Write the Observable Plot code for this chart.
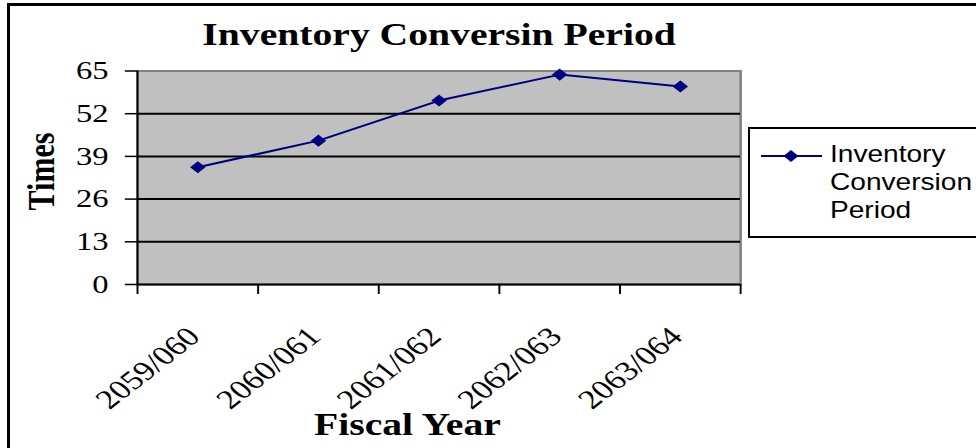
<!DOCTYPE html>
<html>
<head>
<meta charset="utf-8">
<script src="https://cdn.jsdelivr.net/npm/d3@7"></script>
<script src="https://cdn.jsdelivr.net/npm/@observablehq/plot@0.6"></script>
<style>
  html, body { margin: 0; padding: 0; background: #fff; }
  body { width: 976px; height: 448px; overflow: hidden; position: relative; }
  #chart { position: absolute; left: 0; top: 0; width: 976px; height: 448px; }
  #outer { position: absolute; left: 7px; top: 3px; width: 990px; height: 460px;
           border-top: 3px solid #000; border-left: 3px solid #000; pointer-events: none; }
  #legend { position: absolute; left: 748px; top: 127px; width: 240px; height: 107px;
            border: 2px solid #000; background: #fff; }
  #legend svg { position: absolute; left: 0; top: 0; }
  #legend .txt { position: absolute; left: 80px; top: 11px; font-family: "Liberation Sans", Arial, sans-serif;
                 font-size: 24px; line-height: 28px; color: #000; white-space: nowrap;
                 transform: scaleX(1.17); transform-origin: 0 0; }
</style>
</head>
<body>
<div id="chart"></div>
<div id="outer"></div>
<div id="legend"></div>
<script>
// ---- data ----
const fiscalYears = ["2059/060", "2060/061", "2061/062", "2062/063", "2063/064"];
const conversionPeriod = [35.7, 43.8, 56.0, 63.9, 60.3];
const yTicks = [0, 13, 26, 39, 52, 65];
const chartTitle = "Inventory Conversin Period";
const xTitle = "Fiscal Year";
const yTitle = "Times";
const seriesName = ["Inventory", "Conversion", "Period"];

const data = fiscalYears.map((fy, i) => ({fy, i, v: conversionPeriod[i]}));
const boundaries = d3.range(0, fiscalYears.length + 1);

// Drawn in a narrower space, then stretched horizontally like the reference image
const W = 763, H = 448;
const navy = "#000080";
const serif = "'Liberation Serif', 'Times New Roman', serif";

const chart = Plot.plot({
  width: W,
  height: H,
  marginLeft: 107,
  marginRight: W - 578.5,
  marginTop: 70.5,
  marginBottom: 164,
  style: {fontFamily: serif, background: "transparent", color: "#000", overflow: "visible"},
  x: {type: "linear", domain: [0, fiscalYears.length], axis: null},
  y: {domain: [0, 65], axis: null},
  marks: [
    Plot.frame({fill: "#c0c0c0", stroke: "#808080", strokeWidth: 2}),
    Plot.ruleY(yTicks.filter(d => d > 0 && d < 65), {stroke: "#000", strokeWidth: 2}),
    Plot.ruleX([0], {stroke: "#000", strokeWidth: 1.5}),
    Plot.ruleY([0], {stroke: "#000", strokeWidth: 2}),
    Plot.axisY({ticks: yTicks, tickSize: 9.4, tickPadding: 13.2, fontSize: 25.5,
                tickFormat: d => String(d), label: null, stroke: "#000", strokeWidth: 1.5, fill: "#000"}),
    Plot.axisX({ticks: boundaries, tickSize: 10, tickFormat: () => "", label: null,
                stroke: "#000", strokeWidth: 1.5}),
    Plot.text(data, {x: d => d.i + 0.5, y: d => 0, text: "fy", rotate: -45, textAnchor: "end",
                     lineAnchor: "bottom", dx: 3.1, dy: 53.7, fontSize: 27, fill: "#000"}),
    Plot.line(data, {x: d => d.i + 0.5, y: "v", stroke: navy, strokeWidth: 2}),
    Plot.dot(data, {x: d => d.i + 0.5, y: "v", symbol: "diamond2", r: 4.8, fill: navy, stroke: navy, strokeWidth: 1}),
    Plot.text([chartTitle], {text: d => d, frameAnchor: "top", lineAnchor: "bottom", dy: 44 - 70.5,
                             fontSize: 31, fontWeight: "bold", fill: "#000"}),
    Plot.text([xTitle], {text: d => d, frameAnchor: "bottom", lineAnchor: "bottom", dx: -24.75, dy: 150,
                         fontSize: 31, fontWeight: "bold", fill: "#000"}),
    Plot.text([yTitle], {text: d => d, frameAnchor: "left", rotate: -90, textAnchor: "middle", lineAnchor: "bottom",
                         dx: -65.6, dy: -6.25, fontSize: 30, fontWeight: "bold", fill: "#000"})
  ]
});

chart.setAttribute("width", 976);
chart.setAttribute("height", H);
chart.setAttribute("preserveAspectRatio", "none");
chart.style.width = "976px";
chart.style.height = H + "px";
chart.style.maxWidth = "none";
document.getElementById("chart").appendChild(chart);

// ---- legend ----
const legend = d3.select("#legend");
const sw = legend.append("svg").attr("width", 120).attr("height", 60);
sw.append("line").attr("x1", 11).attr("x2", 72).attr("y1", 27).attr("y2", 27)
  .attr("stroke", navy).attr("stroke-width", 2);
sw.append("path").attr("d", "M41,21 L48.5,27 L41,33 L33.5,27 Z").attr("fill", navy);
legend.append("div").attr("class", "txt").html(seriesName.join("<br>"));
</script>
</body>
</html>
